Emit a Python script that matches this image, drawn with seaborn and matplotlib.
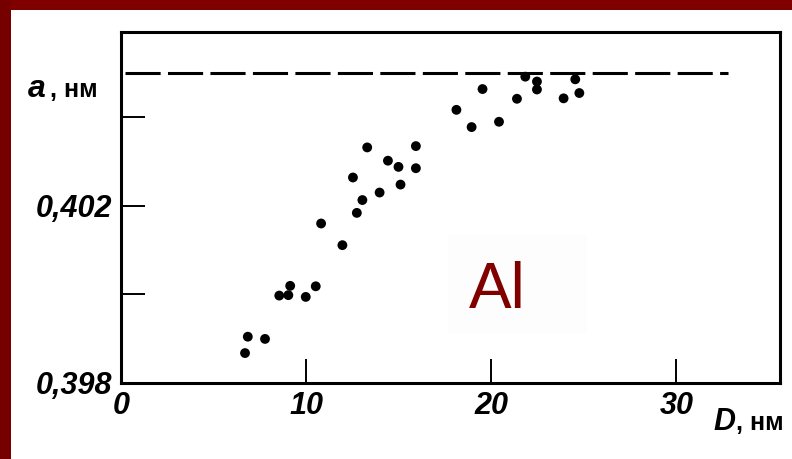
import numpy as np
import pandas as pd
import matplotlib
matplotlib.use('Agg')
import matplotlib.pyplot as plt
from matplotlib.patches import Rectangle
import seaborn as sns

# ---- data ----
D_nm = [6.70, 6.85, 7.78, 8.55, 9.04, 9.14, 9.98, 10.52, 10.81, 11.96,
        12.53, 12.74, 13.04, 13.30, 13.97, 14.42, 14.99, 15.10, 15.93, 15.93,
        18.12, 18.94, 19.53, 20.42, 21.39, 21.84, 22.47, 22.47, 23.91, 24.54, 24.76]
a_nm = [0.39867, 0.39904, 0.39899, 0.39997, 0.39998, 0.40019, 0.39994, 0.40018, 0.40160, 0.40111,
        0.40264, 0.40184, 0.40213, 0.40332, 0.40230, 0.40302, 0.40288, 0.40248, 0.40335, 0.40285,
        0.40417, 0.40378, 0.40464, 0.40390, 0.40442, 0.40492, 0.40481, 0.40463, 0.40443, 0.40486, 0.40455]
bulk_D = [0.2, 32.8]
bulk_a = [0.4050, 0.4050]
x_ticks = [0, 10, 20, 30]
x_labels = ['0', '10', '20', '30']
y_ticks = [0.398, 0.400, 0.402, 0.404]
y_labels = ['0,398', '', '0,402', '']
element = 'Al'

sns.set_style('ticks')
plt.rcParams['font.family'] = ['Liberation Sans', 'DejaVu Sans']
plt.rcParams['text.color'] = 'black'
plt.rcParams['xtick.color'] = 'black'
plt.rcParams['ytick.color'] = 'black'

W, H = 792, 459
fig = plt.figure(figsize=(W / 100, H / 100), dpi=100)
fig.patch.set_facecolor('white')

# dark red frame (top band and left strip)
fig.patches.append(Rectangle((0, 1 - 10 / H), 1, 10 / H, transform=fig.transFigure,
                             facecolor='#800000', edgecolor='none', zorder=0))
fig.patches.append(Rectangle((0, 0), 11 / W, 1, transform=fig.transFigure,
                             facecolor='#760000', edgecolor='none', zorder=0))

ax = fig.add_axes([121 / W, 1 - 382.7 / H, 659 / W, (382.7 - 32) / H])

df = pd.DataFrame({'D': D_nm, 'a': a_nm})
sns.scatterplot(data=df, x='D', y='a', ax=ax, color='black', s=50,
                edgecolor='none', zorder=3, legend=False)
sns.lineplot(x=bulk_D, y=bulk_a, ax=ax, color='black', lw=2.2,
             linestyle=(0, (11.5, 2.4)), zorder=2)

ax.set_xlim(0, 35.6)
ax.set_ylim(0.398, 0.40593)
ax.set_xlabel('')
ax.set_ylabel('')

for s in ax.spines.values():
    s.set_visible(True)
    s.set_linewidth(2.2)
    s.set_color('black')

ax.set_xticks(x_ticks)
ax.set_xticklabels(x_labels)
ax.set_yticks(y_ticks)
ax.set_yticklabels(y_labels)
ax.tick_params(axis='both', direction='in', length=17, width=1.4, color='black',
               labelcolor='black', top=False, right=False, labelsize=22)
ax.tick_params(axis='x', pad=6)
ax.tick_params(axis='y', pad=6)
for lab in ax.get_xticklabels() + ax.get_yticklabels():
    lab.set_fontstyle('italic')
    lab.set_fontweight('bold')
    lab.set_color('black')

# axis captions
fig.text(28 / W, 1 - 97 / H, 'a', fontsize=23, fontstyle='italic', fontweight='bold',
         ha='left', va='baseline', color='black')
fig.text(50 / W, 1 - 97 / H, ', нм', fontsize=18, fontweight='bold',
         ha='left', va='baseline', color='black')
fig.text(713 / W, 1 - 430 / H, 'D', fontsize=22, fontstyle='italic', fontweight='bold',
         ha='left', va='baseline', color='black')
fig.text(736 / W, 1 - 430 / H, ', нм', fontsize=18, fontweight='bold',
         ha='left', va='baseline', color='black')

# faint box and element label
ax.add_patch(Rectangle((448 / W, 1 - 333 / H), 139 / W, 98 / H, transform=fig.transFigure,
                       facecolor='#fdfdfd', edgecolor='none', zorder=1))
fig.text(469 / W, 1 - 308 / H, element, fontsize=46, color='#800000',
         ha='left', va='baseline')

fig.savefig('out.png', dpi=100)
